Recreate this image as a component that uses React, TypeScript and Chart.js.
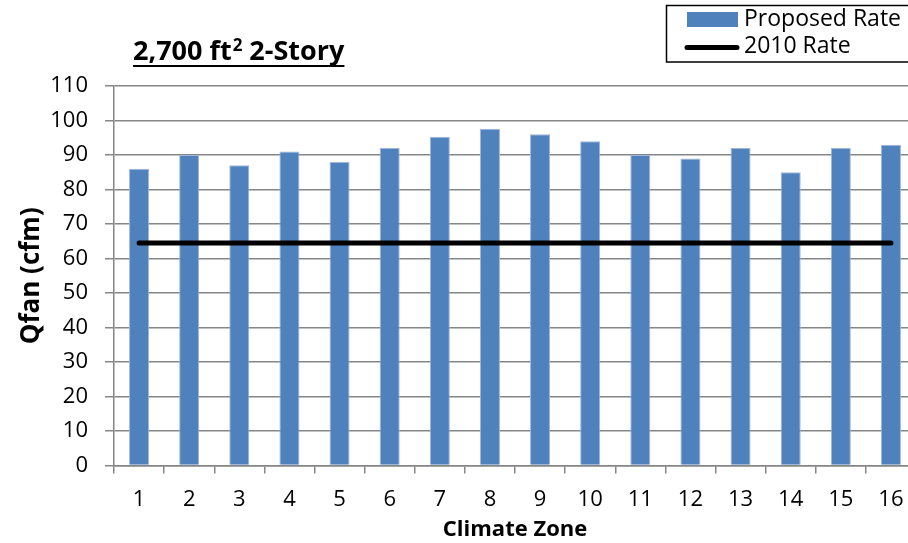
import React, { useEffect, useRef } from "react";
import { Chart, registerables } from "chart.js";

Chart.register(...registerables);

const zones = ["1", "2", "3", "4", "5", "6", "7", "8", "9", "10", "11", "12", "13", "14", "15", "16"];
const proposedRate = [86, 90, 87, 91, 88, 92, 95.3, 97.6, 96, 94, 90, 89, 92, 85, 92, 93];
const rate2010 = [64.5, 64.5, 64.5, 64.5, 64.5, 64.5, 64.5, 64.5, 64.5, 64.5, 64.5, 64.5, 64.5, 64.5, 64.5, 64.5];
const yTicks = [0, 10, 20, 30, 40, 50, 60, 70, 80, 90, 100, 110];

const titleMain = "2,700 ft";
const titleSup = "2";
const titleRest = " 2-Story";

const FONT = '"Open Sans", Lato, "DejaVu Sans", sans-serif';
const GRID = "#868686";
const BLUE = "#4F81BD";

// Underlined title with a superscript, plus a boxed legend in the top-right corner
const decorPlugin = {
  id: "decor",
  afterDraw(chart: any) {
    const ctx = chart.ctx as CanvasRenderingContext2D;
    ctx.save();
    ctx.fillStyle = "#000";
    ctx.textBaseline = "alphabetic";
    ctx.textAlign = "left";

    // title
    const tx0 = 133;
    const base = 60;
    let tx = tx0;
    ctx.font = `bold 27px ${FONT}`;
    ctx.fillText(titleMain, tx, base);
    tx += ctx.measureText(titleMain).width + 1;
    ctx.font = `bold 17px ${FONT}`;
    ctx.fillText(titleSup, tx, base - 9);
    tx += ctx.measureText(titleSup).width;
    ctx.font = `bold 27px ${FONT}`;
    ctx.fillText(titleRest, tx, base);
    tx += ctx.measureText(titleRest).width;
    ctx.fillRect(tx0, base + 5, tx - tx0, 2);

    // legend
    const ds = chart.data.datasets;
    ctx.strokeStyle = "#000";
    ctx.lineWidth = 1.5;
    ctx.strokeRect(666.5, 5.5, 300, 56.5);
    ctx.font = `23px ${FONT}`;
    ctx.textBaseline = "middle";

    const bar = ds.find((d: any) => d.type === "bar");
    const line = ds.find((d: any) => d.type === "line");
    ctx.fillStyle = bar.backgroundColor;
    ctx.fillRect(687, 12, 51, 15);
    ctx.fillStyle = "#000";
    ctx.fillText(bar.label, 744, 19);

    ctx.beginPath();
    ctx.strokeStyle = line.borderColor;
    ctx.lineWidth = 5;
    ctx.lineCap = "round";
    ctx.moveTo(687, 47.5);
    ctx.lineTo(737, 47.5);
    ctx.stroke();
    ctx.fillText(line.label, 744, 46);

    ctx.restore();
  },
};

export default function App() {
  const ref = useRef<HTMLCanvasElement>(null);

  useEffect(() => {
    if (!ref.current) return;
    const chart = new Chart(ref.current, {
      type: "bar",
      data: {
        labels: zones,
        datasets: [
          {
            type: "bar",
            label: "Proposed Rate",
            data: proposedRate,
            backgroundColor: BLUE,
            borderColor: "#9DB7DA",
            borderWidth: 1,
            barPercentage: 0.4,
            categoryPercentage: 1,
            order: 2,
          },
          {
            type: "line",
            label: "2010 Rate",
            data: rate2010,
            borderColor: "#000",
            borderWidth: 5,
            borderCapStyle: "round",
            pointRadius: 0,
            fill: false,
            order: 1,
          },
        ] as any,
      },
      options: {
        responsive: false,
        animation: false,
        layout: { padding: { top: 86, right: 14, left: 0, bottom: 0 } },
        plugins: {
          legend: { display: false },
          title: { display: false },
          tooltip: { enabled: false },
        },
        scales: {
          x: {
            grid: {
              offset: true,
              drawOnChartArea: false,
              drawTicks: true,
              tickLength: 8,
              color: GRID,
              lineWidth: 1.5,
            },
            border: { color: GRID, width: 1.5 },
            ticks: {
              color: "#000",
              font: { family: FONT, size: 22 },
              padding: 13,
              maxRotation: 0,
            },
            title: {
              display: true,
              text: "Climate Zone",
              color: "#000",
              font: { family: FONT, size: 22, weight: "bold" },
              padding: { top: 0, bottom: 0 },
            },
            afterFit(scale: any) {
              scale.height = 77.5;
            },
          },
          y: {
            min: 0,
            max: 110,
            afterBuildTicks(scale: any) {
              scale.ticks = yTicks.map((v) => ({ value: v }));
            },
            grid: {
              color: GRID,
              lineWidth: 1.5,
              tickLength: 9,
            },
            border: { color: GRID, width: 1.5 },
            ticks: {
              color: "#000",
              font: { family: FONT, size: 22 },
              padding: 17,
            },
            title: {
              display: true,
              text: "Qfan (cfm)",
              color: "#000",
              font: { family: FONT, size: 26, weight: "bold" },
              padding: { top: 16, bottom: 0 },
            },
            afterFit(scale: any) {
              scale.width = 114;
            },
          },
        },
      },
      plugins: [decorPlugin],
    });
    return () => chart.destroy();
  }, []);

  return (
    <div
      style={{
        position: "fixed",
        left: 0,
        top: 0,
        width: 908,
        height: 543,
        overflow: "hidden",
        background: "#fff",
      }}
    >
      <canvas ref={ref} width={930} height={543} style={{ width: 930, height: 543, display: "block" }} />
    </div>
  );
}
